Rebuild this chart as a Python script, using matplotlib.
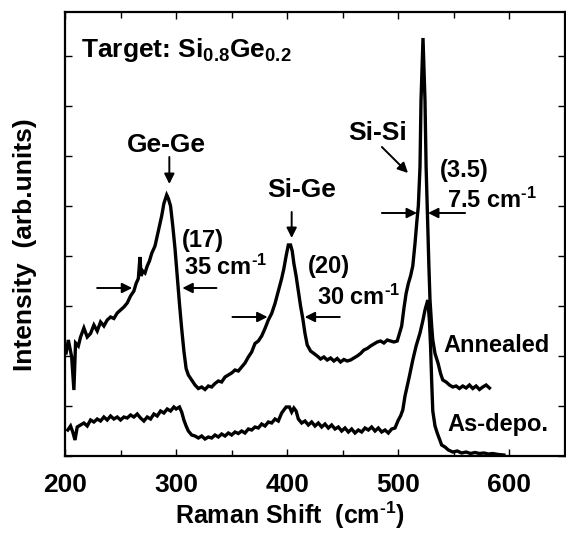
import matplotlib
matplotlib.use("Agg")
import matplotlib.pyplot as plt
from matplotlib.ticker import MultipleLocator, NullFormatter

plt.rcParams['font.family'] = ['Liberation Sans', 'DejaVu Sans']
plt.rcParams['font.weight'] = 'bold'
plt.rcParams['mathtext.fontset'] = 'custom'
plt.rcParams['mathtext.rm'] = 'Liberation Sans:bold'
plt.rcParams['mathtext.bf'] = 'Liberation Sans:bold'
plt.rcParams['mathtext.default'] = 'rm'

# ---- data ----
annealed_x = [201, 203, 206, 208, 209.5, 212, 214, 217, 220, 223, 226, 229, 232, 235, 238,
              241, 244, 247, 250, 253, 256, 259, 262, 264, 266, 267.5, 268.5, 270, 272, 274,
              276, 278, 281, 283, 285, 287, 289, 291.5, 293, 295, 297, 299, 301, 303, 305,
              307, 309, 311, 314, 317, 320, 323, 326, 329, 332, 335, 338, 341, 344, 347,
              350, 353, 356, 359, 362, 365, 368, 371, 374, 377, 380, 383, 386, 389, 392,
              395, 397, 399, 401, 403, 404.5, 406, 408, 410, 412, 414, 416, 418, 421, 424,
              427, 430, 433, 436, 439, 442, 445, 448, 451, 454, 457, 460, 463, 466, 469,
              472, 475, 478, 481, 484, 487, 490, 493, 496, 499, 501, 503, 505, 507, 509,
              511, 513, 515, 516.7, 518, 519.5, 520.4, 522.2, 524, 525, 526.5, 527.5, 528.5,
              530, 531, 533, 535.7, 538, 540, 543, 546, 549, 552, 555, 558, 561, 564, 567,
              570, 573, 576, 579, 582]
annealed_y = [2.06, 2.32, 1.98, 1.32, 2.26, 2.20, 2.38, 2.56, 2.38, 2.45, 2.62, 2.50, 2.68, 2.60, 2.72,
              2.78, 2.75, 2.86, 2.92, 2.98, 3.06, 3.20, 3.30, 3.45, 3.55, 3.98, 3.60, 3.70, 3.66, 3.80,
              3.90, 4.05, 4.20, 4.40, 4.60, 4.80, 5.05, 5.22, 5.15, 5.00, 4.60, 4.15, 3.60, 3.05, 2.55,
              2.10, 1.75, 1.62, 1.52, 1.42, 1.35, 1.38, 1.33, 1.40, 1.38, 1.45, 1.50, 1.48, 1.58, 1.62,
              1.66, 1.72, 1.70, 1.78, 1.86, 1.98, 2.08, 2.25, 2.30, 2.40, 2.55, 2.72, 2.85, 3.05, 3.30,
              3.55, 3.75, 4.00, 4.22, 4.22, 4.10, 3.85, 3.60, 3.30, 3.00, 2.75, 2.45, 2.22, 2.10, 2.05,
              2.00, 1.94, 1.98, 1.92, 1.96, 1.90, 1.95, 1.88, 1.93, 1.90, 1.92, 1.96, 2.00, 2.05, 2.12,
              2.15, 2.20, 2.24, 2.28, 2.30, 2.26, 2.32, 2.30, 2.28, 2.30, 2.45, 2.60, 2.95, 3.25, 3.45,
              3.60, 3.80, 4.25, 4.70, 5.00, 5.78, 7.10, 8.36, 7.10, 5.78, 4.60, 3.80, 3.12,
              2.60, 2.32, 2.05, 1.86, 1.65, 1.52, 1.48, 1.42, 1.38, 1.40, 1.35, 1.40, 1.36, 1.42, 1.35,
              1.40, 1.33, 1.38, 1.42, 1.36]

asdepo_x = [202.5, 205, 207, 209, 211, 214, 217, 220, 223, 226, 229, 232, 235, 238, 241, 244,
            247, 250, 253, 256, 259, 262, 265, 268, 271, 274, 277, 280, 283, 286, 289, 292,
            295, 298, 300, 303, 305, 307, 309, 311, 314, 317, 320, 323, 326, 329, 332, 335,
            338, 341, 344, 347, 350, 353, 356, 359, 362, 365, 368, 371, 374, 377, 380, 383,
            386, 389, 392, 395, 397, 399, 402, 404, 406, 408, 410, 413, 416, 419, 422, 425,
            428, 431, 434, 437, 440, 443, 446, 449, 452, 455, 458, 461, 464, 467, 470, 473,
            476, 479, 482, 485, 488, 491, 494, 497, 500, 502, 504, 506, 508, 510, 513, 516,
            519.5, 522, 524, 526.5, 528, 529, 530, 531, 533, 535, 537, 539, 542, 545, 549,
            553, 557, 561, 565, 569, 573, 577, 581, 585, 590, 595]
asdepo_y = [0.52, 0.60, 0.48, 0.32, 0.58, 0.62, 0.66, 0.60, 0.72, 0.68, 0.74, 0.70, 0.78, 0.72, 0.80, 0.74,
            0.78, 0.72, 0.78, 0.76, 0.82, 0.78, 0.84, 0.76, 0.70, 0.78, 0.74, 0.84, 0.80, 0.90, 0.86, 0.94,
            0.90, 0.98, 0.94, 0.98, 0.88, 0.72, 0.60, 0.50, 0.42, 0.40, 0.36, 0.40, 0.34, 0.38, 0.36, 0.42,
            0.38, 0.44, 0.40, 0.46, 0.42, 0.48, 0.45, 0.50, 0.46, 0.54, 0.52, 0.58, 0.56, 0.64, 0.60, 0.68,
            0.66, 0.74, 0.70, 0.86, 0.92, 0.98, 0.98, 0.88, 0.96, 0.90, 0.74, 0.66, 0.70, 0.62, 0.68, 0.60,
            0.66, 0.58, 0.64, 0.56, 0.62, 0.54, 0.58, 0.50, 0.56, 0.48, 0.54, 0.46, 0.52, 0.48, 0.56, 0.52,
            0.58, 0.50, 0.56, 0.48, 0.52, 0.46, 0.54, 0.56, 0.72, 0.80, 0.92, 1.20, 1.40, 1.60, 1.92, 2.20,
            2.46, 2.70, 2.92, 3.12, 2.70, 2.20, 1.50, 0.90, 0.60, 0.46, 0.34, 0.22, 0.18, 0.12, 0.08,
            0.10, 0.06, 0.08, 0.05, 0.07, 0.05, 0.06, 0.04, 0.05, 0.03, 0.02]

xticks = [200, 300, 400, 500, 600]
xticklabels = ['200', '300', '400', '500', '600']

# ---- figure ----
fig = plt.figure(figsize=(5.66, 5.40), dpi=100)
ax = fig.add_axes([65/566, 1-456/540, 500/566, 444/540])

ax.plot(annealed_x, annealed_y, color='black', lw=2.4, solid_joinstyle='miter')
ax.plot(asdepo_x, asdepo_y, color='black', lw=2.4, solid_joinstyle='miter')

ax.set_xlim(200, 650)
ax.set_ylim(0, 8.88)
ax.set_xticks(xticks)
ax.set_xticklabels(xticklabels)
ax.xaxis.set_minor_locator(MultipleLocator(50))
ax.yaxis.set_major_locator(MultipleLocator(1))
ax.yaxis.set_major_formatter(NullFormatter())
ax.tick_params(axis='both', which='both', direction='in', top=True, right=True,
               width=1.0)
ax.tick_params(axis='both', which='major', length=5, labelsize=19, pad=12)
ax.tick_params(axis='x', which='minor', length=4)
for lab in ax.get_xticklabels():
    lab.set_fontweight('bold')
for s in ax.spines.values():
    s.set_linewidth(1.6)

cm = r'cm$^{\text{-}1}$'
ax.set_xlabel('Raman Shift  (' + cm + ')', fontsize=18, fontweight='bold', va='center')
ax.xaxis.set_label_coords(0.45, -0.133)
ax.set_ylabel('Intensity  (arb.units)', fontsize=19, fontweight='bold', va='center')
ax.yaxis.set_label_coords(-0.08, 0.475)

fs = 17
fb = 19
ax.text(214.4, 8.12, 'Target: Si$_{0.8}$Ge$_{0.2}$', fontsize=fb, fontweight='bold',
        ha='left', va='center')

arrow = dict(arrowstyle='-|>', color='black', lw=1.4, mutation_scale=15, shrinkA=0, shrinkB=0)

# Ge-Ge
ax.text(291.2, 6.22, 'Ge-Ge', fontsize=fb, fontweight='bold', ha='center', va='center')
ax.annotate('', xy=(293.9, 5.44), xytext=(293.9, 5.98), arrowprops=arrow)
ax.text(305.6, 4.32, '(17)', fontsize=fs, fontweight='bold', ha='left', va='center')
ax.text(307.4, 3.78, '35 ' + cm, fontsize=fs, fontweight='bold', ha='left', va='center')
ax.annotate('', xy=(260.5, 3.36), xytext=(228.9, 3.36), arrowprops=arrow)
ax.annotate('', xy=(305.6, 3.36), xytext=(336.3, 3.36), arrowprops=arrow)

# Si-Ge
ax.text(413.0, 5.32, 'Si-Ge', fontsize=fb, fontweight='bold', ha='center', va='center')
ax.annotate('', xy=(404.0, 4.36), xytext=(404.0, 4.88), arrowprops=arrow)
ax.text(418.4, 3.78, '(20)', fontsize=fs, fontweight='bold', ha='left', va='center')
ax.text(426.5, 3.18, '30 ' + cm, fontsize=fs, fontweight='bold', ha='left', va='center')
ax.annotate('', xy=(382.3, 2.78), xytext=(350.7, 2.78), arrowprops=arrow)
ax.annotate('', xy=(415.7, 2.78), xytext=(447.3, 2.78), arrowprops=arrow)

# Si-Si
ax.text(481.6, 6.46, 'Si-Si', fontsize=fb, fontweight='bold', ha='center', va='center')
ax.annotate('', xy=(508.7, 5.66), xytext=(485.2, 6.18), arrowprops=arrow)
ax.text(537.5, 5.72, '(3.5)', fontsize=fs, fontweight='bold', ha='left', va='center')
ax.text(543.9, 5.12, '7.5 ' + cm, fontsize=fs, fontweight='bold', ha='left', va='center')
ax.annotate('', xy=(516.8, 4.86), xytext=(485.2, 4.86), arrowprops=arrow)
ax.annotate('', xy=(526.7, 4.86), xytext=(560.1, 4.86), arrowprops=arrow)

ax.text(540.3, 2.22, 'Annealed', fontsize=fs, fontweight='bold', ha='left', va='center')
ax.text(543.9, 0.62, 'As-depo.', fontsize=fs, fontweight='bold', ha='left', va='center')

fig.savefig('out.png', dpi=100)
